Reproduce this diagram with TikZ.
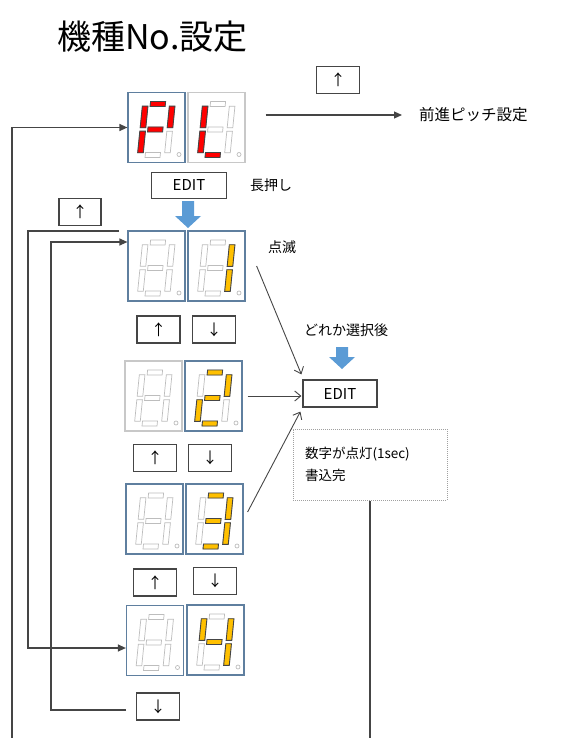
\documentclass[tikz,border=0pt]{standalone}
\usepackage{fontspec}
\setmainfont{Noto Sans CJK JP}
\usetikzlibrary{arrows.meta,positioning}
\definecolor{ink}{HTML}{454545}
\definecolor{blueedge}{HTML}{5F7F9F}
\definecolor{grayedge}{HTML}{C8C8C8}
\definecolor{segline}{HTML}{BDBDBD}
\definecolor{segred}{HTML}{FF0000}
\definecolor{segamber}{HTML}{FFC000}
\definecolor{flow}{HTML}{5B9BD5}
\definecolor{dashgray}{HTML}{A0A0A0}
\tikzset{
  dbox/.style={draw=#1, line width=1.2pt, fill=white, minimum width=57pt, minimum height=70pt, inner sep=0pt},
  dbox/.default=blueedge,
  keybox/.style={draw=ink, line width=1.2pt, fill=white, minimum width=43pt, minimum height=27pt, inner sep=0pt, font=\fontsize{15}{15}\selectfont},
  editbox/.style={keybox, minimum width=75pt, minimum height=26pt},
  segoff/.style={draw=segline, fill=white, line width=0.7pt},
  segon/.style={draw=ink, line width=0.9pt},
  jtext/.style={font=\fontsize{14}{17}\selectfont, inner sep=0pt, anchor=west},
  notebox/.style={draw=dashgray, densely dotted, line width=1pt, minimum height=71pt, text width=130pt, inner sep=12pt, align=left, font=\fontsize{13.5}{22}\selectfont},
  arrow/.style={-{Triangle[length=8pt,width=7pt]}, line width=1.2pt, draw=ink},
  openarrow/.style={-{Straight Barb[length=6pt,width=10pt]}, line width=0.9pt, draw=ink},
  wire/.style={line width=1.2pt, draw=ink}
}
% seven segments: x/y/half width/half height, around the box centre
\def\sgda{-1/-23.5/7.5/2.5}
\def\sgdb{13.5/-10.5/2.8/10.8}
\def\sgdc{13.5/14.5/2.8/10.8}
\def\sgdd{-1/27.5/7.5/2.5}
\def\sgde{-13.5/14.5/2.8/10.8}
\def\sgdf{-13.5/-10.5/2.8/10.8}
\def\sgdg{-1/2/7.5/2.5}
\def\segrect#1#2/#3/#4/#5\relax{\draw[#1] (#2-#4,#3-#5) rectangle (#2+#4,#3+#5);}
\newcommand\oneseg[2]{\edef\segtmp{\noexpand\segrect{#1}\csname sgd#2\endcsname\relax}\segtmp}
\newcommand\digitoff[1]{%
  \begin{scope}[shift={(#1.center)},xslant=0.1]
    \foreach \s in {a,b,c,d,e,f,g}{\oneseg{segoff}{\s}}
  \end{scope}
  \draw[segoff] (#1.center) ++(22.5,27) circle (2);}
\newcommand\digiton[3]{%
  \begin{scope}[shift={(#1.center)},xslant=0.1]
    \foreach \s in {#2}{\oneseg{segon,fill=#3}{\s}}
  \end{scope}}
\newcommand\flowdown[3]{% x, top, length
  \fill[flow] (#1-6,#2) -- (#1+6,#2) -- (#1+6,#2+#3-12) -- (#1+13,#2+#3-12) -- (#1,#2+#3)
    -- (#1-13,#2+#3-12) -- (#1-6,#2+#3-12) -- cycle;}

\begin{document}
\begin{tikzpicture}[x=1pt,y=-1pt]
\useasboundingbox (0,0) rectangle (570,738);
\node[font=\fontsize{34}{34}\selectfont, anchor=west, inner sep=0pt] (title) at (57,37) {機種No.設定};

% top: PL
\node[dbox] (r1l) at (156.5,127.5) {};
\node[dbox=grayedge] (r1r) at (216.5,127.5) {};
\digitoff{r1l}\digiton{r1l}{a,b,f,g,e}{segred}
\digitoff{r1r}\digiton{r1r}{f,e,d}{segred}
\node[keybox] (upP) at (338,80) {↑};
\node[jtext, font=\fontsize{15.5}{18}\selectfont] (pitch) at (419,115) {前進ピッチ設定};
\draw[arrow] ([xshift=20pt,yshift=12.5pt]r1r.east) -- ([xshift=-17pt]pitch.west);
\node[editbox] (edit1) at (189,185.5) {EDIT};
\node[jtext] (hold) at (250,185) {長押し};
\flowdown{188}{201}{27}

% 01 .. 04
\node[dbox] (r2l) at (156.5,266) {};
\node[dbox] (r2r) at (216.5,266) {};
\digitoff{r2l}
\digitoff{r2r}\digiton{r2r}{b,c}{segamber}
\node[keybox] (up2) at (158.5,329.5) {↑};
\node[keybox] (dn2) at (214,329.5) {↓};
\node[dbox=grayedge] (r3l) at (153.5,396) {};
\node[dbox] (r3r) at (213.5,396) {};
\digitoff{r3l}
\digitoff{r3r}\digiton{r3r}{a,b,g,e,d}{segamber}
\node[keybox] (up3) at (155,458) {↑};
\node[keybox] (dn3) at (210,458) {↓};
\node[dbox] (r4l) at (154.5,519) {};
\node[dbox] (r4r) at (214.5,519) {};
\digitoff{r4l}
\digitoff{r4r}\digiton{r4r}{a,b,g,c,d}{segamber}
\node[keybox] (up4) at (155,582.5) {↑};
\node[keybox] (dn4) at (215,581) {↓};
\node[dbox] (r5l) at (155,640.5) {};
\node[dbox] (r5r) at (215.5,640) {};
\digitoff{r5l}
\digitoff{r5r}\digiton{r5r}{f,b,g,c}{segamber}
\node[keybox] (dnb) at (158,706.5) {↓};

% loops on the left
\coordinate (b1) at (12,738);
\draw[arrow] (b1) |- (r1l.west);
\node[keybox, minimum width=42pt] (upk) at (80,212) {↑};
\coordinate (u0) at (119,231);
\draw[arrow] (u0) -- (28,231) |- ([yshift=-7.5pt]r5l.west);
\coordinate (d0) at (126,710);
\draw[arrow] (d0) -- (51,710) |- ([yshift=24pt]r2l.west);

% EDIT to write
\node[jtext] (blink) at (268,247) {点滅};
\node[jtext] (pick) at (304,330) {どれか選択後};
\flowdown{342}{347}{22}
\node[editbox, minimum width=74pt, minimum height=27pt] (edit2) at (340,393.5) {EDIT};
\draw[openarrow] ([xshift=11pt]r2r.east) -- ([xshift=-1pt,yshift=5pt]edit2.north west);
\draw[openarrow, shorten >=1pt] ([xshift=5pt]r3r.east) -- (r3r.east -| edit2.west);
\draw[openarrow] ([xshift=4pt,yshift=7pt]r4r.east) -- ([xshift=-2pt,yshift=-4pt]edit2.south west);
\node[notebox] (note) at (370,464.5) {数字が点灯(1sec)\\書込完};
\coordinate (b2) at (note.south |- b1);
\draw[wire] (note.south) -- (b2);
\end{tikzpicture}
\end{document}
